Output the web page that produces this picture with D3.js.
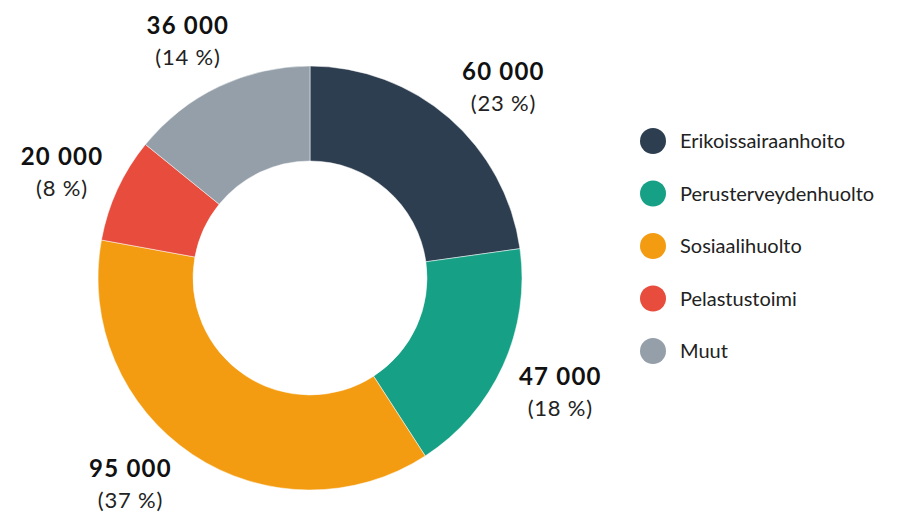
<!DOCTYPE html>
<html><head><meta charset="utf-8">
<script src="https://cdn.jsdelivr.net/npm/d3@7"></script>
<style>html,body{margin:0;padding:0;background:#fff;}svg{display:block;}</style>
</head><body>
<svg id="c" width="903" height="512"></svg>
<script>
// Category names and values (labels as printed)
const categories = ["Erikoissairaanhoito", "Perusterveydenhuolto", "Sosiaalihuolto", "Pelastustoimi", "Muut"];
const values = [58800, 46600, 95500, 20600, 36500];
const valueLabels = ["60 000", "47 000", "95 000", "20 000", "36 000"];
const percentLabels = ["(23 %)", "(18 %)", "(37 %)", "(8 %)", "(14 %)"];
const colors = ["#2d3e50", "#16a085", "#f39c12", "#e74c3c", "#949fa9"];
// small per-label layout nudges (px) applied after the elliptical placement
const labelNudges = [[7, 4], [-8, 11], [-22, -3], [10, 4], [0, -4]];

const svg = d3.select("#c");
const cx = 310, cy = 278, outerR = 212, innerR = 117;
const fontFam = "Lato, 'Open Sans', sans-serif";

const data = categories.map((c, i) => ({cat: c, value: values[i], vl: valueLabels[i], pl: percentLabels[i], color: colors[i], nudge: labelNudges[i]}));
const pie = d3.pie().sort(null).value(d => d.value);
const arcs = pie(data);
const arc = d3.arc().innerRadius(innerR).outerRadius(outerR);

const g = svg.append("g").attr("transform", `translate(${cx},${cy})`);
g.selectAll("path").data(arcs).join("path")
  .attr("d", arc)
  .attr("fill", d => d.data.color)
  .attr("stroke", "#fff").attr("stroke-width", 0.5);

const Rx = 284, Ry = 255;
const lbl = g.selectAll("g.lbl").data(arcs).join("g").attr("class", "lbl")
  .attr("transform", d => {
    const a = (d.startAngle + d.endAngle) / 2;
    return `translate(${Rx * Math.sin(a) + d.data.nudge[0]},${-Ry * Math.cos(a) + d.data.nudge[1]})`;
  });
lbl.append("text").attr("text-anchor", "middle").attr("y", -10)
  .attr("font-family", fontFam).attr("font-weight", 700).attr("font-size", 24)
  .attr("letter-spacing", 1.2)
  .attr("fill", "#111").text(d => d.data.vl);
lbl.append("text").attr("text-anchor", "middle").attr("y", 21)
  .attr("font-family", fontFam).attr("font-weight", 400).attr("font-size", 22)
  .attr("letter-spacing", 0.8)
  .attr("fill", "#222").text(d => d.data.pl);

const legend = svg.append("g").attr("transform", "translate(653,141)");
const items = legend.selectAll("g").data(data).join("g")
  .attr("transform", (d, i) => `translate(0,${i * 52.5})`);
items.append("circle").attr("r", 13).attr("fill", d => d.color);
items.append("text").attr("x", 27).attr("y", 7)
  .attr("font-family", fontFam).attr("font-size", 20).attr("fill", "#222")
  .text(d => d.cat);
</script>
</body></html>
